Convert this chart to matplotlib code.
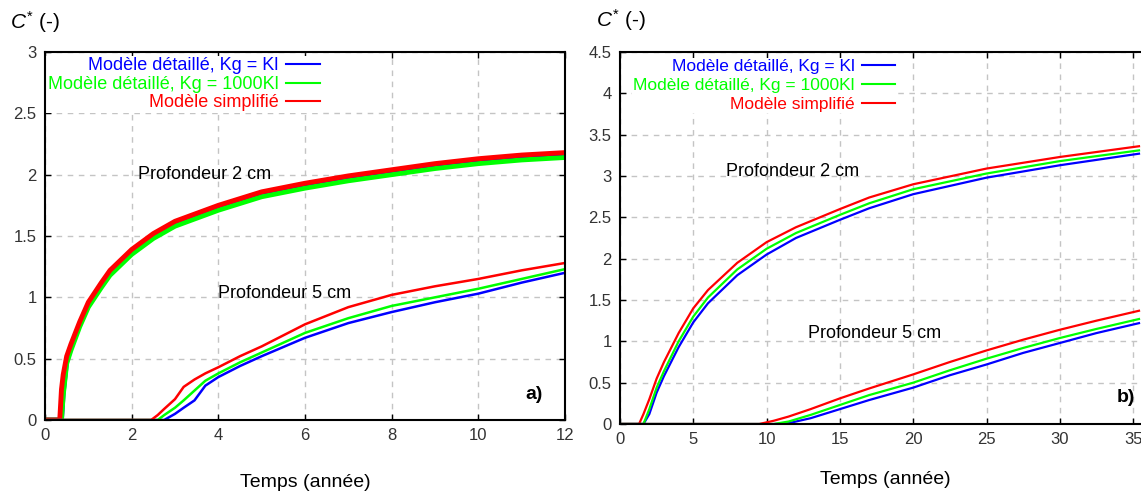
import matplotlib
matplotlib.use("Agg")
import matplotlib.pyplot as plt
from matplotlib import font_manager

# ---------------- data ----------------
# Panel a) (0-12 years)
t_a2 = [0, 0.34, 0.38, 0.42, 0.5, 0.6, 0.8, 1.0, 1.3, 1.5, 2, 2.5, 3, 4, 5, 6, 7, 8, 9, 10, 11, 12]
a2_red = [0, 0, 0.25, 0.37, 0.52, 0.62, 0.80, 0.96, 1.12, 1.22, 1.39, 1.52, 1.62, 1.75, 1.86, 1.93, 1.99, 2.04, 2.09, 2.13, 2.16, 2.18]
a2_green = [0, 0, 0, 0.20, 0.46, 0.57, 0.76, 0.92, 1.08, 1.18, 1.35, 1.48, 1.58, 1.71, 1.82, 1.89, 1.95, 2.00, 2.05, 2.09, 2.12, 2.14]
a2_blue = [0, 0, 0, 0.22, 0.48, 0.59, 0.78, 0.94, 1.10, 1.20, 1.37, 1.50, 1.60, 1.73, 1.84, 1.91, 1.97, 2.02, 2.07, 2.11, 2.14, 2.15]

t_a5 = [0, 2.45, 2.6, 2.75, 3.0, 3.2, 3.45, 3.7, 4, 4.5, 5, 6, 7, 8, 9, 10, 11, 12]
a5_red = [0, 0, 0.04, 0.09, 0.17, 0.27, 0.33, 0.38, 0.43, 0.52, 0.60, 0.78, 0.92, 1.02, 1.09, 1.15, 1.22, 1.28]
a5_green = [0, 0, 0, 0.04, 0.10, 0.16, 0.24, 0.32, 0.38, 0.47, 0.55, 0.71, 0.83, 0.93, 1.00, 1.07, 1.15, 1.23]
a5_blue = [0, 0, 0, 0, 0.05, 0.10, 0.16, 0.28, 0.35, 0.44, 0.52, 0.67, 0.79, 0.88, 0.96, 1.03, 1.12, 1.20]

# Panel b) (0-35 years)
t_b2 = [0, 1.3, 1.6, 2, 2.5, 3, 4, 5, 6, 8, 10, 12, 15, 17, 20, 25, 30, 35.4]
b2_red = [0, 0, 0.12, 0.30, 0.55, 0.75, 1.10, 1.40, 1.62, 1.95, 2.20, 2.38, 2.60, 2.74, 2.90, 3.09, 3.23, 3.36]
b2_green = [0, 0, 0, 0.18, 0.44, 0.64, 1.00, 1.30, 1.53, 1.87, 2.12, 2.31, 2.53, 2.67, 2.84, 3.03, 3.18, 3.31]
b2_blue = [0, 0, 0, 0.12, 0.38, 0.58, 0.93, 1.23, 1.46, 1.80, 2.05, 2.25, 2.47, 2.61, 2.78, 2.98, 3.13, 3.27]

t_b5 = [0, 9.5, 10.5, 11.5, 13, 15, 17, 20, 22.5, 25, 27.5, 30, 32.5, 35.4]
b5_red = [0, 0, 0.04, 0.09, 0.18, 0.31, 0.43, 0.60, 0.75, 0.89, 1.02, 1.14, 1.25, 1.37]
b5_green = [0, 0, 0, 0.03, 0.11, 0.23, 0.35, 0.50, 0.65, 0.79, 0.92, 1.04, 1.15, 1.27]
b5_blue = [0, 0, 0, 0.01, 0.07, 0.18, 0.29, 0.44, 0.59, 0.72, 0.86, 0.98, 1.10, 1.22]

labels = ["Modèle détaillé, Kg = Kl", "Modèle détaillé, Kg = 1000Kl", "Modèle simplifié"]
colors = ["#0000ff", "#00ff00", "#ff0000"]

# ---------------- fonts ----------------
avail = {f.name for f in font_manager.fontManager.ttflist}
narrow = "Liberation Sans Narrow" if "Liberation Sans Narrow" in avail else "Liberation Sans"
plt.rcParams["font.family"] = ["Liberation Sans", "DejaVu Sans"]
plt.rcParams["mathtext.fontset"] = "custom"
plt.rcParams["mathtext.it"] = "Liberation Sans:italic"
plt.rcParams["mathtext.rm"] = "Liberation Sans"

W, H = 1141, 494
fig = plt.figure(figsize=(W / 100, H / 100), dpi=100)

ax_a = fig.add_axes([45 / W, 1 - 420 / H, 520 / W, 368 / H])
ax_b = fig.add_axes([620 / W, 1 - 424 / H, 530 / W, 372 / H])


def style(ax, xlim, ylim, xticks, yticks, labelpad):
    ax.set_xlim(*xlim)
    ax.set_ylim(*ylim)
    ax.set_xticks(xticks)
    ax.set_yticks(yticks)
    ax.set_xticklabels([f"{v:g}" for v in xticks])
    ax.set_yticklabels([f"{v:g}" for v in yticks])
    ax.grid(True, color="#c4c4c4", linestyle=(0, (4, 4)), linewidth=1.0)
    ax.set_axisbelow(True)
    ax.tick_params(direction="in", top=True, right=True, length=4, width=1,
                   labelsize=12, labelcolor="#333333", pad=6)
    for s in ax.spines.values():
        s.set_linewidth(1.5)
        s.set_color("black")
        s.set_zorder(6)
    ax.set_xlabel("Temps (année)", fontsize=14, family=narrow, labelpad=labelpad)


style(ax_a, (0, 12), (0, 3), [0, 2, 4, 6, 8, 10, 12], [0, 0.5, 1, 1.5, 2, 2.5, 3], 22)
style(ax_b, (0, 36.15), (0, 4.5), [0, 5, 10, 15, 20, 25, 30, 35],
      [0, 0.5, 1, 1.5, 2, 2.5, 3, 3.5, 4, 4.5], 17)

# panel a curves
for ys, c in zip([a2_blue, a2_green, a2_red], colors):
    ax_a.plot(t_a2, ys, color=c, lw=3.5, solid_joinstyle="miter")
for ys, c in zip([a5_blue, a5_green, a5_red], colors):
    ax_a.plot(t_a5, ys, color=c, lw=1.8)

# panel b curves
for ys, c in zip([b2_blue, b2_green, b2_red], colors):
    ax_b.plot(t_b2, ys, color=c, lw=1.6)
for ys, c in zip([b5_blue, b5_green, b5_red], colors):
    ax_b.plot(t_b5, ys, color=c, lw=1.6)

# legends
for ax, anchor, fs, sp in [(ax_a, (0.532, 0.99), 13, 0.08), (ax_b, (0.522, 0.985), 12.5, 0.2)]:
    handles = [plt.Line2D([], [], color=c, lw=1.5) for c in colors]
    leg = ax.legend(handles, labels, loc="upper right", bbox_to_anchor=anchor,
                    markerfirst=False, frameon=True, fancybox=False,
                    facecolor="white", edgecolor="none", framealpha=1,
                    prop={"family": narrow, "size": fs}, labelspacing=sp,
                    handlelength=1.9, handletextpad=0.4, borderpad=0.1,
                    borderaxespad=0.0)
    for txt, c in zip(leg.get_texts(), colors):
        txt.set_color(c)

# in-plot annotations
ax_a.text(2.15, 2.0, "Profondeur 2 cm", fontsize=13, family=narrow, va="center")
ax_a.text(4.0, 1.03, "Profondeur 5 cm", fontsize=13, family=narrow, va="center")
ax_b.text(7.2, 3.05, "Profondeur 2 cm", fontsize=13, family=narrow, va="center")
ax_b.text(12.8, 1.1, "Profondeur 5 cm", fontsize=13, family=narrow, va="center")
ax_a.text(0.957, 0.07, "a)", transform=ax_a.transAxes, fontsize=14,
          fontweight="bold", ha="right", va="center")
ax_b.text(0.972, 0.07, "b)", transform=ax_b.transAxes, fontsize=14,
          fontweight="bold", ha="right", va="center")

# y-axis titles
fig.text(10 / W, 1 - 22 / H, r"$\mathit{C}^{*}$ (-)", fontsize=15, ha="left", va="center")
fig.text(596 / W, 1 - 20 / H, r"$\mathit{C}^{*}$ (-)", fontsize=15, ha="left", va="center")

fig.savefig("out.png", dpi=100)
